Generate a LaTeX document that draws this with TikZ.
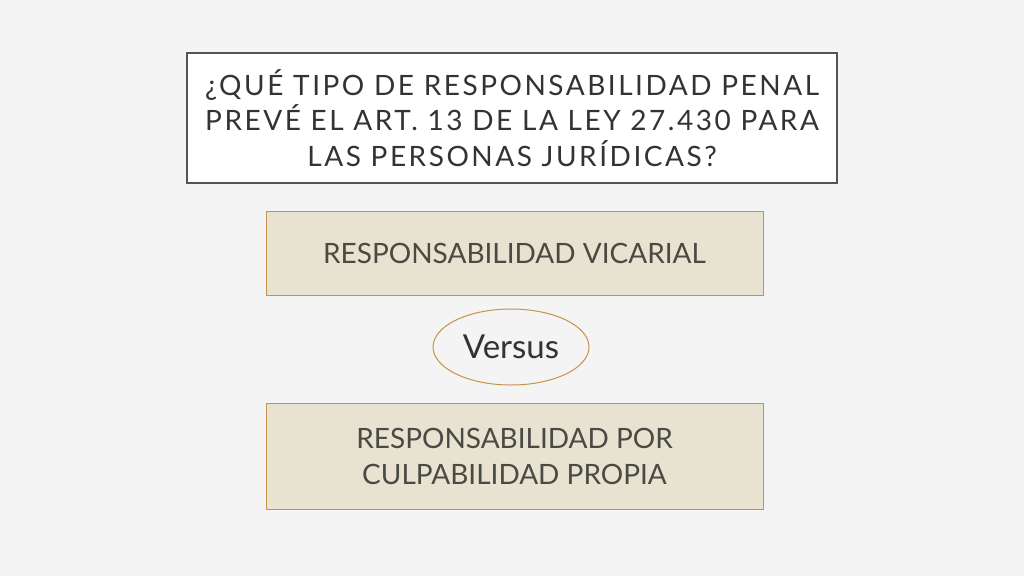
\documentclass[tikz,border=0pt]{standalone}
\usepackage{fontspec}
\setmainfont{Lato}
\newfontfamily\titlefont[LetterSpace=9]{Lato}
\usetikzlibrary{shapes.geometric}
\definecolor{bg}{HTML}{F4F4F4}
\definecolor{boxfill}{HTML}{E8E2D0}
\definecolor{boxline}{HTML}{C8924A}
\definecolor{titleline}{HTML}{555555}
\definecolor{txt}{HTML}{333333}
\definecolor{boxtxt}{HTML}{4A4A44}
\tikzset{
  titlebox/.style={draw=titleline, line width=2.5pt, fill=white, minimum width=650pt, minimum height=130pt, inner sep=0pt, align=center, text=txt, font=\titlefont\fontsize{28}{35.5}\selectfont},
  answerbox/.style={draw=boxline, line width=1pt, fill=boxfill, minimum width=497pt, inner sep=0pt, align=center, text=boxtxt, font=\fontsize{28}{36}\selectfont},
  versusnode/.style={ellipse, draw=boxline, line width=1pt, fill=bg, minimum width=156pt, minimum height=76pt, inner sep=0pt, text=txt, font=\fontsize{33}{38}\selectfont}
}
\begin{document}
\begin{tikzpicture}[x=1pt,y=-1pt]
\fill[bg] (0,0) rectangle (1024,576);
\useasboundingbox (0,0) rectangle (1024,576);
\node[titlebox] (title) at (512,118) {¿QUÉ TIPO DE RESPONSABILIDAD PENAL\\PREVÉ EL ART. 13 DE LA LEY 27.430 PARA\\LAS PERSONAS JURÍDICAS?};
\node[answerbox, minimum height=84pt] (vic) at (514.5,253) {RESPONSABILIDAD VICARIAL};
\node[versusnode] (vs) at (511,347) {Versus};
\node[answerbox, minimum height=106pt] (prop) at (514.5,456) {RESPONSABILIDAD POR\\CULPABILIDAD PROPIA};
\end{tikzpicture}
\end{document}
